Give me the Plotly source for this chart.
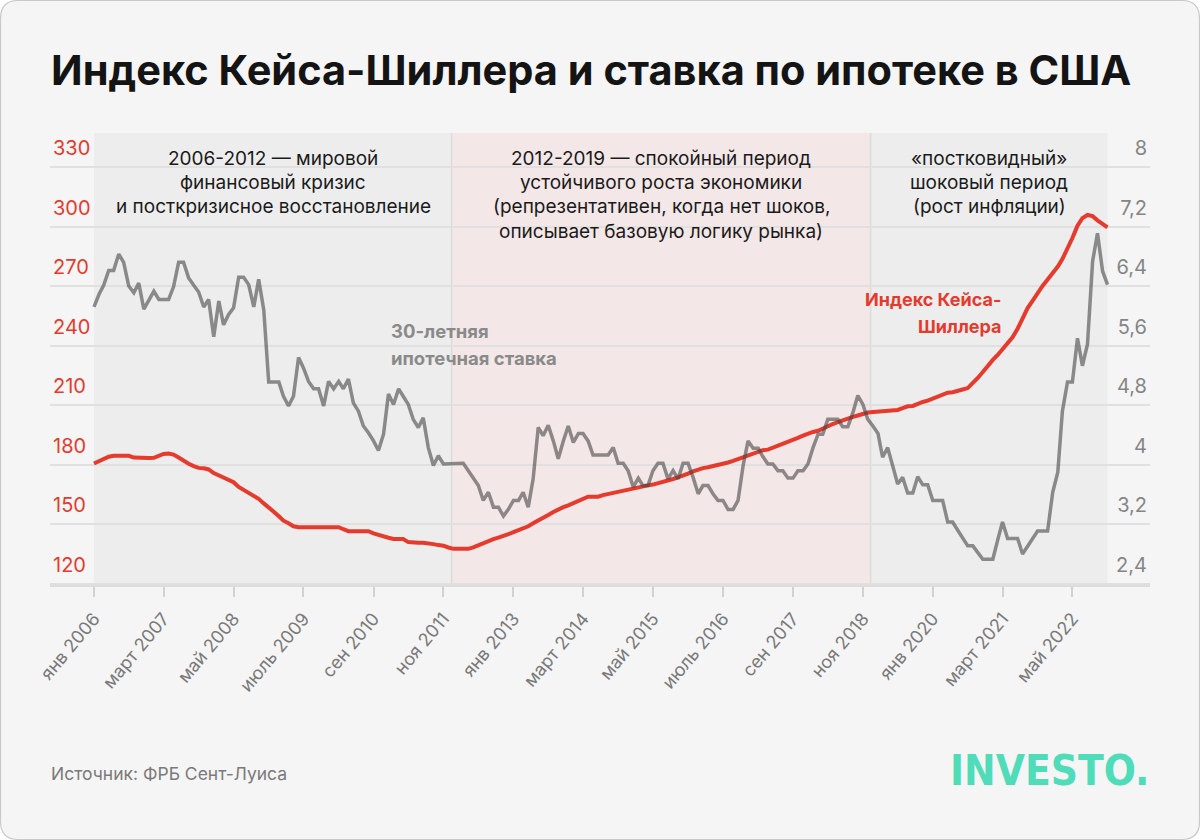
import plotly.graph_objects as go
import pandas as pd

# ---------------- data ----------------
months = pd.date_range("2006-01-01", "2022-12-01", freq="MS")

case_shiller = [
    180.6, 181.9, 183.2, 184.0, 184.5, 184.6, 184.6, 184.5, 183.6, 183.4, 183.4, 183.4,  # 2006
    183.5, 184.5, 185.4, 185.6, 185.1, 183.6, 182.0, 180.5, 179.3, 178.4, 178.2, 177.6,  # 2007
    175.8, 174.7, 173.5, 172.6, 171.2, 168.8, 167.4, 166.0, 164.6, 162.8, 160.5, 158.7,  # 2008
    156.3, 154.0, 151.8, 150.5, 149.0, 148.5, 148.5, 148.5, 148.5, 148.5, 148.5, 148.5,  # 2009
    148.5, 148.5, 147.5, 146.5, 146.5, 146.5, 146.5, 146.5, 145.4, 144.5, 143.9, 143.2,  # 2010
    142.6, 142.6, 142.6, 141.0, 140.7, 140.7, 140.7, 140.6, 140.0, 139.5, 139.2, 138.3,  # 2011
    137.6, 137.6, 137.6, 137.6, 138.4, 139.5, 140.6, 141.6, 142.5, 143.3, 144.0, 145.0,  # 2012
    146.0, 147.0, 148.0, 149.0, 150.5, 152.1, 153.5, 154.7, 156.2, 157.6, 158.6, 159.5,  # 2013
    160.7, 161.9, 163.0, 163.9, 163.9, 163.9, 164.7, 165.3, 165.8, 166.3, 167.0, 167.7,  # 2014
    168.2, 168.6, 169.2, 169.6, 170.0, 170.6, 171.1, 171.9, 172.8, 173.6, 174.4, 175.5,  # 2015
    176.6, 177.5, 178.3, 178.7, 179.2, 179.9, 180.5, 181.1, 181.9, 182.8, 183.9, 184.9,  # 2016
    185.9, 186.7, 187.3, 187.6, 188.5, 189.6, 190.6, 191.2, 192.2, 193.5, 194.6, 195.7,  # 2017
    196.5, 197.1, 198.3, 199.5, 200.5, 201.4, 202.4, 203.4, 204.1, 204.8, 205.6, 206.3,  # 2018
    206.5, 206.8, 207.2, 207.4, 207.6, 207.6, 208.5, 209.4, 209.6, 210.8, 211.6, 212.3,  # 2019
    213.3, 214.3, 215.5, 216.3, 216.5, 217.4, 217.9, 218.6, 220.9, 223.7, 226.7, 229.9,  # 2020
    232.8, 235.4, 238.1, 241.1, 244.2, 248.5, 253.9, 258.9, 262.7, 266.5, 270.2, 273.3,  # 2021
    276.2, 279.8, 283.6, 288.8, 294.2, 300.4, 304.2, 305.8, 305.2, 303.1, 301.4, 299.6,  # 2022
]

mortgage_rate = [
    6.12, 6.29, 6.41, 6.61, 6.61, 6.83, 6.72, 6.40, 6.31, 6.44, 6.09, 6.20,  # 2006
    6.33, 6.22, 6.22, 6.22, 6.39, 6.72, 6.72, 6.51, 6.41, 6.32, 6.12, 6.22,  # 2007
    5.72, 6.20, 5.88, 6.02, 6.11, 6.52, 6.52, 6.42, 6.12, 6.49, 6.08, 5.11,  # 2008
    5.11, 5.11, 4.92, 4.79, 4.92, 5.44, 5.30, 5.12, 5.02, 5.02, 4.79, 5.12,  # 2009
    5.02, 5.12, 5.02, 5.15, 4.83, 4.72, 4.52, 4.43, 4.32, 4.19, 4.41, 4.95,  # 2010
    4.81, 5.02, 4.92, 4.81, 4.61, 4.50, 4.63, 4.23, 3.99, 4.12, 4.01, 4.01,  # 2011
    4.01, 4.01, 4.02, 3.92, 3.83, 3.72, 3.52, 3.63, 3.43, 3.43, 3.31, 3.40,  # 2012
    3.52, 3.52, 3.63, 3.43, 3.81, 4.50, 4.39, 4.53, 4.32, 4.08, 4.32, 4.52,  # 2013
    4.30, 4.42, 4.42, 4.32, 4.13, 4.13, 4.13, 4.13, 4.23, 4.02, 4.02, 3.92,  # 2014
    3.70, 3.82, 3.72, 3.72, 3.92, 4.02, 4.02, 3.81, 3.92, 3.81, 4.02, 4.02,  # 2015
    3.83, 3.61, 3.72, 3.72, 3.61, 3.52, 3.52, 3.40, 3.40, 3.52, 3.99, 4.32,  # 2016
    4.22, 4.22, 4.11, 4.01, 4.01, 3.92, 3.92, 3.82, 3.82, 3.92, 3.92, 4.01,  # 2017
    4.23, 4.41, 4.41, 4.61, 4.61, 4.61, 4.51, 4.51, 4.70, 4.93, 4.81, 4.61,  # 2018
    4.52, 4.42, 4.10, 4.23, 3.99, 3.74, 3.83, 3.62, 3.62, 3.84, 3.73, 3.73,  # 2019
    3.52, 3.52, 3.52, 3.23, 3.23, 3.12, 3.02, 2.91, 2.91, 2.82, 2.73, 2.73,  # 2020
    2.73, 3.00, 3.23, 3.01, 3.01, 3.01, 2.80, 2.91, 3.02, 3.11, 3.11, 3.11,  # 2021
    3.63, 3.90, 4.72, 5.11, 5.11, 5.70, 5.33, 5.62, 6.73, 7.11, 6.60, 6.42,  # 2022
]

tick_dates = ["2006-01-01", "2007-03-01", "2008-05-01", "2009-07-01", "2010-09-01",
              "2011-11-01", "2013-01-01", "2014-03-01", "2015-05-01", "2016-07-01",
              "2017-09-01", "2018-11-01", "2020-01-01", "2021-03-01", "2022-05-01"]
tick_text = ["янв 2006", "март 2007", "май 2008", "июль 2009", "сен 2010", "ноя 2011",
             "янв 2013", "март 2014", "май 2015", "июль 2016", "сен 2017", "ноя 2018",
             "янв 2020", "март 2021", "май 2022"]

left_ticks = [120, 150, 180, 210, 240, 270, 300, 330]
right_ticks = [2.4, 3.2, 4.0, 4.8, 5.6, 6.4, 7.2, 8.0]
right_tick_text = ["2,4", "3,2", "4", "4,8", "5,6", "6,4", "7,2", "8"]

period_bounds = ["2006-01-01", "2011-12-21", "2018-12-18", "2022-12-01"]
period_colors = ["#ededed", "#f4e7e7", "#ededed"]
period_texts = [
    ["2006-2012 — мировой", "финансовый кризис", "и посткризисное восстановление"],
    ["2012-2019 — спокойный период", "устойчивого роста экономики",
     "(репрезентативен, когда нет шоков,", "описывает базовую логику рынка)"],
    ["«постковидный»", "шоковый период", "(рост инфляции)"],
]

RED = "#e63a2d"
FONT = "Inter"

# ---------------- geometry helpers (pixel -> paper) ----------------
L, R, T, B = 50, 50, 133, 255
W, H = 1200, 840
PW, PH = W - L - R, H - T - B


def PX(x):
    return (x - L) / PW


def PY(y):
    return (H - B - y) / PH


fig = go.Figure()

fig.add_trace(go.Scatter(x=months, y=case_shiller, mode="lines",
                         line=dict(color=RED, width=4), yaxis="y",
                         name="Индекс Кейса-Шиллера", showlegend=False))
fig.add_trace(go.Scatter(x=months, y=mortgage_rate, mode="lines",
                         line=dict(color="rgba(70,70,70,0.6)", width=3.5), yaxis="y2",
                         name="30-летняя ипотечная ставка", showlegend=False))

shapes = []
# rounded card background
r = 18
x0, y0, x1, y1 = 0.5, 0.5, W - 0.5, H - 0.5
pts = [
    ("M", [(x0 + r, y0)]), ("L", [(x1 - r, y0)]), ("Q", [(x1, y0), (x1, y0 + r)]),
    ("L", [(x1, y1 - r)]), ("Q", [(x1, y1), (x1 - r, y1)]), ("L", [(x0 + r, y1)]),
    ("Q", [(x0, y1), (x0, y1 - r)]), ("L", [(x0, y0 + r)]), ("Q", [(x0, y0), (x0 + r, y0)]),
]
path = ""
for cmd, ps in pts:
    path += cmd + " " + " ".join(f"{PX(px):.5f},{PY(py):.5f}" for px, py in ps) + " "
path += "Z"
shapes.append(dict(type="path", path=path, xref="paper", yref="paper",
                   fillcolor="#f5f5f5", line=dict(color="#c9c9c9", width=1.2), layer="below"))

for i in range(3):
    shapes.append(dict(type="rect", xref="x", yref="paper",
                       x0=period_bounds[i], x1=period_bounds[i + 1], y0=0, y1=1,
                       fillcolor=period_colors[i], line=dict(width=0), layer="below"))
for b in period_bounds[1:3]:
    shapes.append(dict(type="line", xref="x", yref="paper", x0=b, x1=b, y0=0, y1=1,
                       line=dict(color="#dcdcdc", width=1.5), layer="below"))

annotations = []
# title
annotations.append(dict(text="Индекс Кейса-Шиллера и ставка по ипотеке в США",
                        x=PX(49), y=PY(70), xref="paper", yref="paper",
                        xanchor="left", yanchor="middle", showarrow=False,
                        font=dict(family=FONT, size=41.5, color="#141414", weight=700)))
# period texts
centers = [273, 661, 989]
for cx, lines in zip(centers, period_texts):
    for j, t in enumerate(lines):
        annotations.append(dict(text=t, x=PX(cx), y=PY(158 + 24.4 * j),
                                xref="paper", yref="paper", xanchor="center", yanchor="middle",
                                showarrow=False,
                                font=dict(family=FONT, size=19, color="#1a1a1a")))
# series labels
for j, t in enumerate(["30-летняя", "ипотечная ставка"]):
    annotations.append(dict(text=t, x=PX(389), y=PY(331 + 26.5 * j), xref="paper", yref="paper",
                            xanchor="left", yanchor="middle", showarrow=False,
                            font=dict(family=FONT, size=18.5, color="#8a8a8a", weight=700)))
for j, t in enumerate(["Индекс Кейса-", "Шиллера"]):
    annotations.append(dict(text=t, x=PX(1003), y=PY(299 + 27 * j), xref="paper", yref="paper",
                            xanchor="right", yanchor="middle", showarrow=False,
                            font=dict(family=FONT, size=18, color=RED, weight=700)))
# source and logo
annotations.append(dict(text="Источник: ФРБ Сент-Луиса", x=PX(49), y=PY(773),
                        xref="paper", yref="paper", xanchor="left", yanchor="middle",
                        showarrow=False, font=dict(family=FONT, size=17.5, color="#7a7a7a")))
annotations.append(dict(text="INVESTO.", x=PX(1151), y=PY(771),
                        xref="paper", yref="paper", xanchor="right", yanchor="middle",
                        showarrow=False,
                        font=dict(family="DejaVu Sans Condensed, Roboto, sans-serif", size=42,
                                  color="#4fdcb9", weight=700)))

fig.update_layout(
    width=W, height=H, autosize=False,
    margin=dict(l=L, r=R, t=T, b=B, pad=0),
    paper_bgcolor="white", plot_bgcolor="rgba(0,0,0,0)",
    shapes=shapes, annotations=annotations, showlegend=False,
    xaxis=dict(type="date", range=["2005-04-08", "2023-08-17"],
               tickmode="array", tickvals=tick_dates, ticktext=tick_text,
               tickangle=-50, ticks="outside", ticklen=10, tickwidth=2, tickcolor="#d2d2d2",
               showgrid=False, zeroline=False, showline=True, linecolor="#dcdcdc", linewidth=2,
               tickfont=dict(family=FONT, size=18, color="#7a7a7a"), ticklabelstandoff=4),
    yaxis=dict(range=[119.4, 347.1], tickmode="array", tickvals=left_ticks,
               ticklabelposition="inside top", ticklabeloverflow="allow", ticks="",
               showgrid=True, gridcolor="#e0e0e0", gridwidth=2, zeroline=False, showline=False,
               tickfont=dict(family=FONT, size=20, color=RED), ticklabelshift=-5,
               ticklabelstandoff=0),
    yaxis2=dict(range=[2.384, 8.457], overlaying="y", side="right", tickmode="array",
                tickvals=right_ticks, ticktext=right_tick_text,
                ticklabelposition="inside top", ticklabeloverflow="allow", ticks="",
                showgrid=False, zeroline=False, showline=False,
                tickfont=dict(family=FONT, size=20, color="#858585"),
                ticklabelshift=-5, ticklabelstandoff=0),
)

fig.write_html("out.html", post_script="document.body.style.margin='0';",
               config={"displayModeBar": False})
